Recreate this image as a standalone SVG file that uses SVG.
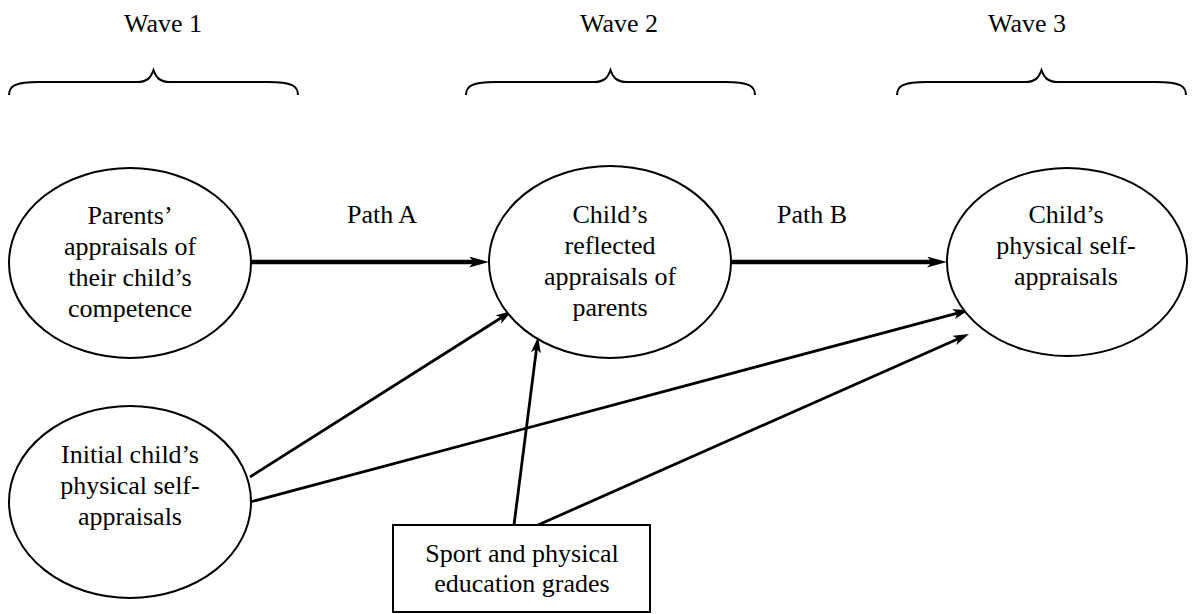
<svg xmlns="http://www.w3.org/2000/svg" xmlns:xlink="http://www.w3.org/1999/xlink" width="1193" height="614" viewBox="0 0 1193 614" font-family="'Liberation Serif', 'Times New Roman', serif">
  <style>
    text { font-family: 'Liberation Serif', 'Times New Roman', serif; font-size: 26px; fill: #000; text-anchor: middle; }
    .node { fill: #fff; stroke: #000; stroke-width: 2; }
    .brace { fill: none; stroke: #000; stroke-width: 2; }
    .thin { fill: none; stroke: #000; stroke-width: 2.8; marker-end: url(#arrowThin); }
    .thick { fill: none; stroke: #000; stroke-width: 4.5; marker-end: url(#arrowThick); }
  </style>
  <defs>
    <marker id="arrowThin" markerUnits="userSpaceOnUse" markerWidth="16" markerHeight="10" refX="8" refY="5" orient="auto">
      <path d="M0,0 L16,5 L0,10 L4,5 z" fill="#000"/>
    </marker>
    <marker id="arrowThick" markerUnits="userSpaceOnUse" markerWidth="20" markerHeight="11" refX="8" refY="5.5" orient="auto">
      <path d="M0,0 L20,5.5 L0,11 L5,5.5 z" fill="#000"/>
    </marker>
    <path id="bracePath" class="brace" d="M0,95 C0,86 6,82 30,82 L128,82 C139,82 142,77 144.5,70 C147,77 150,82 161,82 L259,82 C283,82 289,86 289,95"/>
  </defs>
  <rect width="1193" height="614" fill="#fff"/>

  <g id="waves" font-family="'Liberation Serif', serif">
    <text x="163" y="32">Wave 1</text>
    <text x="619" y="32">Wave 2</text>
    <text x="1027" y="32">Wave 3</text>
    <use xlink:href="#bracePath" href="#bracePath" transform="translate(9,0)"/>
    <use xlink:href="#bracePath" href="#bracePath" transform="translate(466,0)"/>
    <use xlink:href="#bracePath" href="#bracePath" transform="translate(897,0)"/>
  </g>

  <g id="connectors" font-family="'Liberation Serif', serif">
    <line class="thick" x1="250" y1="262" x2="477" y2="262"/>
    <line class="thick" x1="731" y1="262" x2="935" y2="262"/>
    <line class="thin" x1="250" y1="477" x2="505.2" y2="315.3"/>
    <line class="thin" x1="250" y1="502" x2="961.3" y2="312.1"/>
    <line class="thin" x1="514" y1="525" x2="537" y2="344.9"/>
    <line class="thin" x1="538" y1="525" x2="961.7" y2="337.2"/>
    <text x="382" y="223">Path A</text>
    <text x="812" y="223">Path B</text>
  </g>

  <g id="parents" font-family="'Liberation Serif', serif">
    <ellipse class="node" cx="130" cy="263" rx="121" ry="95"/>
    <text x="130" y="224">Parents’</text>
    <text x="130" y="255">appraisals of</text>
    <text x="130" y="286">their child’s</text>
    <text x="130" y="317">competence</text>
  </g>

  <g id="reflected" font-family="'Liberation Serif', serif">
    <ellipse class="node" cx="610" cy="262" rx="121" ry="96"/>
    <text x="610" y="223">Child’s</text>
    <text x="610" y="254">reflected</text>
    <text x="610" y="285">appraisals of</text>
    <text x="610" y="316">parents</text>
  </g>

  <g id="selfAppraisals" font-family="'Liberation Serif', serif">
    <ellipse class="node" cx="1067" cy="262" rx="120" ry="94"/>
    <text x="1066" y="223">Child’s</text>
    <text x="1066" y="254">physical self-</text>
    <text x="1066" y="285">appraisals</text>
  </g>

  <g id="initial" font-family="'Liberation Serif', serif">
    <ellipse class="node" cx="130" cy="502" rx="121" ry="96"/>
    <text x="130" y="463">Initial child’s</text>
    <text x="130" y="494">physical self-</text>
    <text x="130" y="525">appraisals</text>
  </g>

  <g id="grades" font-family="'Liberation Serif', serif">
    <rect class="node" x="393" y="525" width="257" height="87"/>
    <text x="522" y="562">Sport and physical</text>
    <text x="522" y="592">education grades</text>
  </g>
</svg>
